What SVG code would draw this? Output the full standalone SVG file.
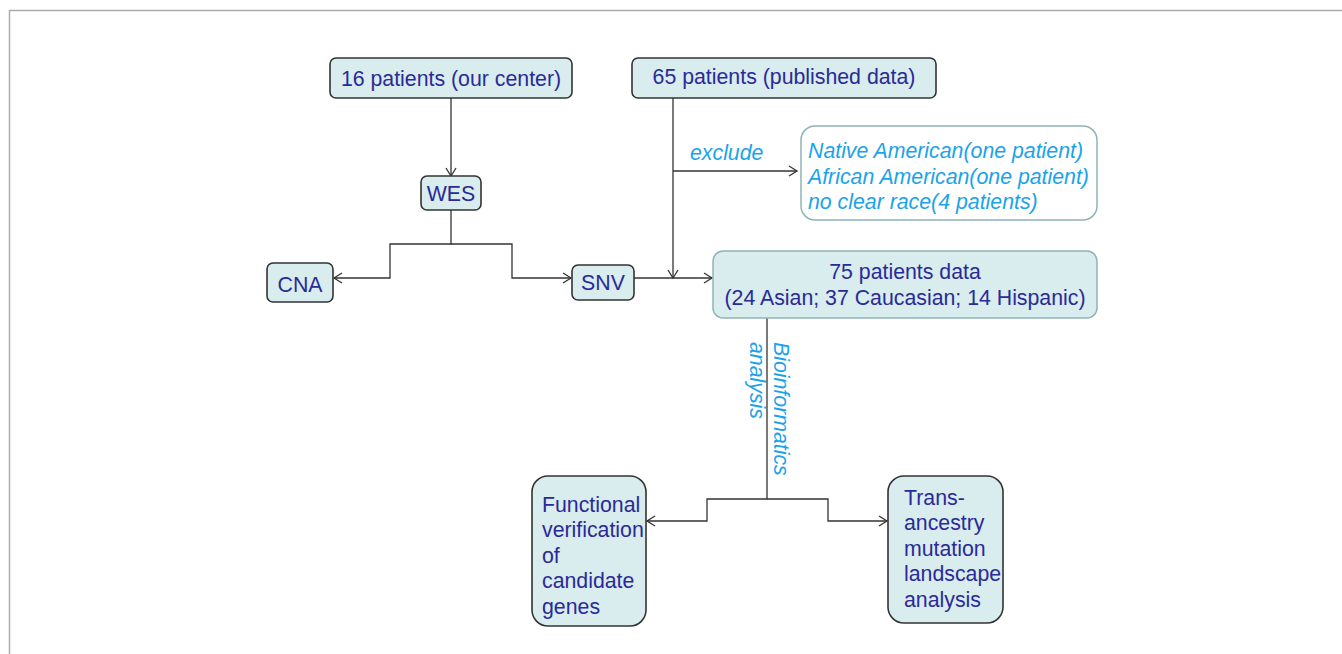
<svg xmlns="http://www.w3.org/2000/svg" width="1342" height="654" viewBox="0 0 1342 654">
<defs>
<style>
.box{fill:#d9ecee;stroke:#333;stroke-width:1.6}
.boxl{fill:#d9ecee;stroke:#8fb4b8;stroke-width:1.5}
.boxw{fill:#fff;stroke:#8fb4b8;stroke-width:1.5}
.t{font-family:"Liberation Sans",Arial,sans-serif;font-size:21.3px;fill:#2a2a98}
.i{font-family:"Liberation Sans",Arial,sans-serif;font-size:21.3px;font-style:italic;fill:#1aa3ea}
.c{fill:none;stroke:#333;stroke-width:1.3}
</style>
<marker id="a" markerWidth="12" markerHeight="12" refX="9" refY="6" orient="auto" markerUnits="userSpaceOnUse">
<polyline points="1,1 9,6 1,11" fill="none" stroke="#333" stroke-width="1.3"/>
</marker>
</defs>
<rect width="1342" height="654" fill="#fff"/>
<path d="M9.5,654 V10.5 H1342" fill="none" stroke="#aaa" stroke-width="1.5"/>
<g id="connectors">
<path class="c" d="M451,98 V176" marker-end="url(#a)"/>
<path class="c" d="M451,210 V244 H390 V278 H334" marker-end="url(#a)"/>
<path class="c" d="M451,244 H512 V278 H571" marker-end="url(#a)"/>
<path class="c" d="M673,98 V278" marker-end="url(#a)"/>
<path class="c" d="M673,171 H797" marker-end="url(#a)"/>
<path class="c" d="M634,278 H712" marker-end="url(#a)"/>
<path class="c" d="M767,318 V499 H707 V521 H647" marker-end="url(#a)"/>
<path class="c" d="M767,499 H828 V521 H887" marker-end="url(#a)"/>
<text class="i" x="690" y="160">exclude</text>
<text class="i" transform="translate(774,342) rotate(90)">Bioinformatics</text>
<text class="i" transform="translate(750,342) rotate(90)">analysis</text>
</g>
<g id="n16">
<rect class="box" x="330" y="58" width="242" height="40" rx="6"/>
<text class="t" x="451" y="86" text-anchor="middle">16 patients (our center)</text>
</g>
<g id="n65">
<rect class="box" x="632" y="58" width="304" height="40" rx="6"/>
<text class="t" x="784" y="84" text-anchor="middle">65 patients (published data)</text>
</g>
<g id="wes">
<rect class="box" x="421" y="176" width="60" height="34" rx="6"/>
<text class="t" x="451" y="201" text-anchor="middle">WES</text>
</g>
<g id="cna">
<rect class="box" x="267" y="263" width="66" height="39" rx="6"/>
<text class="t" x="300" y="292" text-anchor="middle">CNA</text>
</g>
<g id="snv">
<rect class="box" x="572" y="265" width="62" height="35" rx="6"/>
<text class="t" x="603" y="290" text-anchor="middle">SNV</text>
</g>
<g id="excluded">
<rect class="boxw" x="801" y="126" width="296" height="94" rx="14"/>
<text class="i" x="808" y="158">Native American(one patient)</text>
<text class="i" x="808" y="184">African American(one patient)</text>
<text class="i" x="808" y="209">no clear race(4 patients)</text>
</g>
<g id="n75">
<rect class="boxl" x="713" y="251" width="384" height="67" rx="10"/>
<text class="t" x="905" y="279" text-anchor="middle">75 patients data</text>
<text class="t" x="905" y="305" text-anchor="middle">(24 Asian; 37 Caucasian; 14 Hispanic)</text>
</g>
<g id="functional">
<rect class="box" x="532" y="476" width="114" height="150" rx="16"/>
<text class="t" x="542" y="512">Functional</text>
<text class="t" x="542" y="537">verification</text>
<text class="t" x="542" y="563">of</text>
<text class="t" x="542" y="588">candidate</text>
<text class="t" x="542" y="614">genes</text>
</g>
<g id="trans">
<rect class="box" x="888" y="476" width="115" height="147" rx="16"/>
<text class="t" x="904" y="505">Trans-</text>
<text class="t" x="904" y="530">ancestry</text>
<text class="t" x="904" y="556">mutation</text>
<text class="t" x="904" y="581">landscape</text>
<text class="t" x="904" y="607">analysis</text>
</g>
</svg>
